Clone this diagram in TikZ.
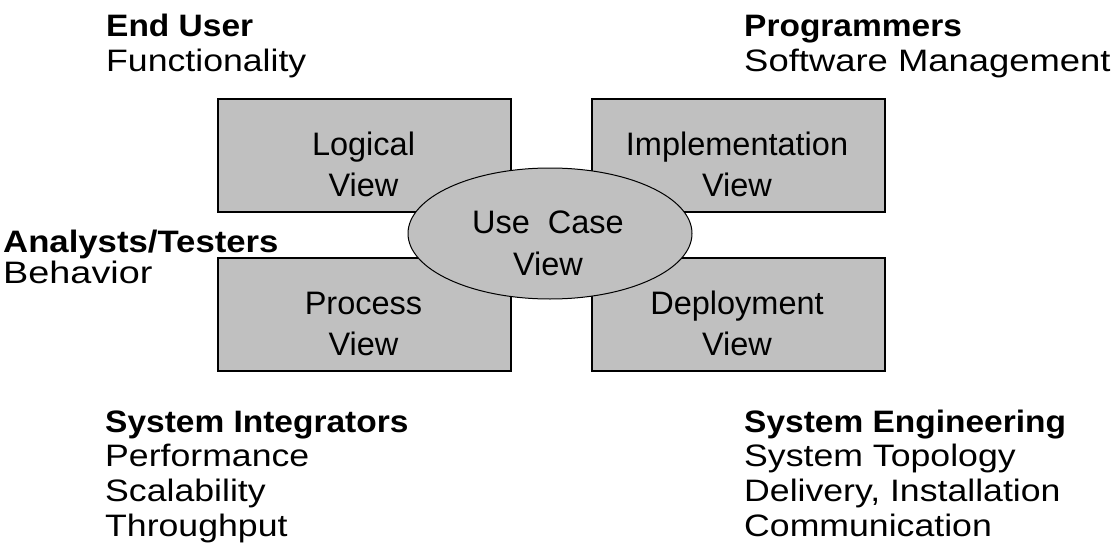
\documentclass[tikz,border=0pt]{standalone}
\usepackage{fontspec}
\setmainfont{Liberation Sans}
\newfontfamily\lblreg[FakeStretch=1.15]{Liberation Sans}
\newfontfamily\lblbold[FakeStretch=1.08]{Liberation Sans}
\newfontfamily\lblregwide[FakeStretch=1.22]{Liberation Sans}
\newfontfamily\lblregmid[FakeStretch=1.175]{Liberation Sans}
\newfontfamily\lblboldwide[FakeStretch=1.12]{Liberation Sans}
\usetikzlibrary{shapes.geometric}
\definecolor{boxgray}{RGB}{192,192,192}
\begin{document}
\begin{tikzpicture}[x=1pt,y=-1pt,
  viewbox/.style={draw=black,line width=1.5pt,fill=boxgray,inner sep=0pt,
    minimum width=293pt,minimum height=113pt,anchor=north west},
  usecasebox/.style={draw=black,line width=1pt,fill=boxgray,ellipse,inner sep=0pt,
    minimum width=284pt,minimum height=131pt},
  boxtext/.style={inner sep=0pt,anchor=base,font=\fontsize{32.5}{36}\selectfont},
  head/.style={inner sep=0pt,anchor=base west,font=\lblbold\bfseries\fontsize{31}{34}\selectfont},
  sub/.style={inner sep=0pt,anchor=base west,font=\lblreg\fontsize{31}{34}\selectfont},
  headwide/.style={inner sep=0pt,anchor=base west,font=\lblboldwide\bfseries\fontsize{31}{34}\selectfont},
  subwide/.style={inner sep=0pt,anchor=base west,font=\lblregwide\fontsize{31}{34}\selectfont},
  submid/.style={inner sep=0pt,anchor=base west,font=\lblregmid\fontsize{31}{34}\selectfont}]
\useasboundingbox (0,0) rectangle (1117,543);

% view boxes
\node[viewbox] (logical) at (217,98) {};
\node[viewbox] (impl) at (591,98) {};
\node[viewbox] (process) at (217,257) {};
\node[viewbox] (deploy) at (591,257) {};

\node[boxtext] (logicalA) at (363.5,155) {Logical};
\node[boxtext] (logicalB) at (363.5,196) {View};
\node[boxtext] (implA) at (737,155) {Implementation};
\node[boxtext] (implB) at (737,196) {View};
\node[boxtext] (processA) at (363.5,314) {Process};
\node[boxtext] (processB) at (363.5,355) {View};
\node[boxtext] (deployA) at (737,314) {Deployment};
\node[boxtext] (deployB) at (737,355) {View};

% use case ellipse
\node[usecasebox] (usecase) at (550,233.5) {};
\node[boxtext] (usecaseA) at (548,233) {Use\ \ Case};
\node[boxtext] (usecaseB) at (548,275) {View};

% stakeholder labels
\node[head] (euA) at (106,37) {End User};
\node[sub]  (euB) at (106,71) {Functionality};

\node[head] (prA) at (744,37) {Programmers};
\node[submid] (prB) at (744,71) {Software Management};

\node[headwide] (anA) at (3,252) {Analysts/Testers};
\node[subwide]  (anB) at (3,283) {Behavior};

\node[head] (siA) at (105,432) {System Integrators};
\node[sub]  (siB) at (105,466) {Performance};
\node[sub]  (siC) at (105,501) {Scalability};
\node[sub]  (siD) at (105,536) {Throughput};

\node[head] (seA) at (744,432) {System Engineering};
\node[sub]  (seB) at (744,466) {System Topology};
\node[sub]  (seC) at (744,501) {Delivery, Installation};
\node[sub]  (seD) at (744,536) {Communication};
\end{tikzpicture}
\end{document}
